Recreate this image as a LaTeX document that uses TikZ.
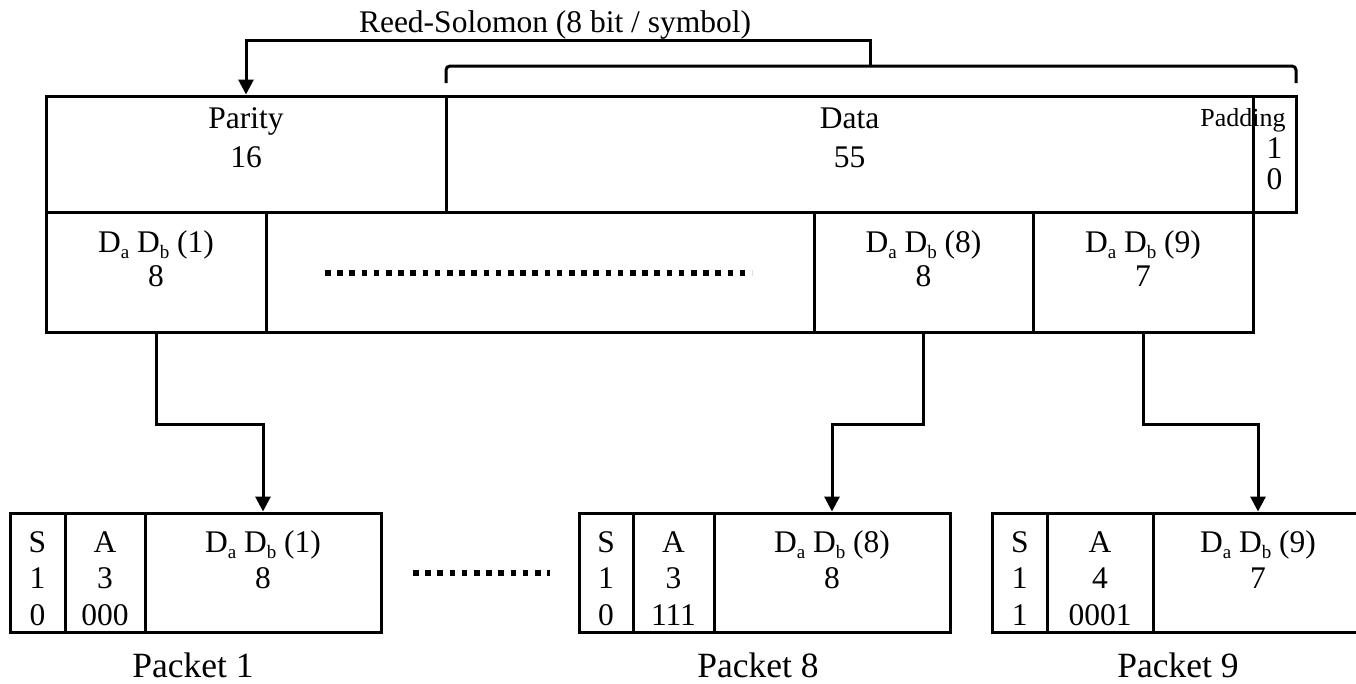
\documentclass[tikz,border=0pt]{standalone}
\usepackage{fontspec}
\setmainfont{Liberation Serif}
\usetikzlibrary{arrows.meta}
\tikzset{
  x=1pt, y=-1pt,
  box/.style={draw, line width=3pt, inner sep=0pt},
  txt/.style={anchor=base, inner sep=0pt, font=\fontsize{31.5}{37}\selectfont},
  bigtxt/.style={anchor=base, inner sep=0pt, font=\fontsize{35.5}{40}\selectfont},
  smalltxt/.style={anchor=base, inner sep=0pt, font=\fontsize{26}{30}\selectfont},
  conn/.style={line width=3pt},
  arr/.style={line width=3pt, -{Triangle[length=15pt,width=15pt]}},
  dotline/.style={line width=5.5pt, dash pattern=on 5.5pt off 6.7pt},
}
\newcommand{\lowsub}[1]{\raisebox{-6pt}{\fontsize{19}{19}\selectfont #1}}
\newcommand{\DaDb}[1]{D\lowsub{a} D\lowsub{b} (#1)}
\begin{document}
\begin{tikzpicture}
\useasboundingbox (0,0) rectangle (1356,683);

% top block
\node[box, minimum width=400pt, minimum height=116pt] (par) at (246,154) {};
\node[box, minimum width=807pt, minimum height=116pt] (dat) at (849.5,154) {};
\node[box, minimum width=43pt, minimum height=116pt] (pad) at (1274.5,154) {};
\node[txt] (parT) at (246,128) {Parity};
\node[txt] (parN) at (246,167) {16};
\node[txt] (datT) at (849.5,128) {Data};
\node[txt] (datN) at (849.5,167) {55};
\node[smalltxt] (padT) at (1243,126) {Padding};
\node[txt] (padN1) at (1274.5,158) {1};
\node[txt] (padN0) at (1274.5,189) {0};

% second row
\node[box, minimum width=220pt, minimum height=120pt] (c1) at (156,272) {};
\node[box, minimum width=548pt, minimum height=120pt] (cd) at (540,272) {};
\node[box, minimum width=219pt, minimum height=120pt] (c8) at (923.5,272) {};
\node[box, minimum width=220pt, minimum height=120pt] (c9) at (1143,272) {};
\node[txt] (c1T) at (156,252) {\DaDb{1}};
\node[txt] (c1N) at (156,286) {8};
\node[txt] (c8T) at (923.5,252) {\DaDb{8}};
\node[txt] (c8N) at (923.5,286) {8};
\node[txt] (c9T) at (1143,252) {\DaDb{9}};
\node[txt] (c9N) at (1143,286) {7};
\coordinate (dA) at (325,273);
\coordinate (dB) at (752,273);
\draw[dotline] (dA) -- (dB);

% Reed-Solomon bracket and arrow
\coordinate (bl) at (446,83);
\coordinate (br) at (1296,83);
\coordinate (bm) at (870,66);
\draw[conn, rounded corners=4pt] (bl) -- (446,66) -- (1296,66) -- (br);
\node[txt] (rs) at (555,32) {Reed-Solomon (8 bit / symbol)};
\draw[arr] (bm) -- ++(0,-26) -| (par.north);

% packets
\node[box, minimum width=55pt, minimum height=119pt] (p1s) at (37.5,572.5) {};
\node[box, minimum width=80pt, minimum height=119pt] (p1a) at (105,572.5) {};
\node[box, minimum width=236pt, minimum height=119pt] (p1d) at (263,572.5) {};
\node[box, minimum width=54pt, minimum height=119pt] (p8s) at (606,572.5) {};
\node[box, minimum width=81pt, minimum height=119pt] (p8a) at (673.5,572.5) {};
\node[box, minimum width=236pt, minimum height=119pt] (p8d) at (832,572.5) {};
\node[box, minimum width=54.5pt, minimum height=119pt] (p9s) at (1019.75,572.5) {};
\node[box, minimum width=106pt, minimum height=119pt] (p9a) at (1100,572.5) {};
\node[box, minimum width=210pt, minimum height=119pt] (p9d) at (1258,572.5) {};

% packet 1 texts
\node[txt] (p1s1) at (37.5,552) {S};
\node[txt] (p1s2) at (37.5,588) {1};
\node[txt] (p1s3) at (37.5,625) {0};
\node[txt] (p1a1) at (105,552) {A};
\node[txt] (p1a2) at (105,588) {3};
\node[txt] (p1a3) at (105,625) {000};
\node[txt] (p1d1) at (263,552) {\DaDb{1}};
\node[txt] (p1d2) at (263,588) {8};
% packet 8 texts
\node[txt] (p8s1) at (606,552) {S};
\node[txt] (p8s2) at (606,588) {1};
\node[txt] (p8s3) at (606,625) {0};
\node[txt] (p8a1) at (673.5,552) {A};
\node[txt] (p8a2) at (673.5,588) {3};
\node[txt] (p8a3) at (673.5,625) {111};
\node[txt] (p8d1) at (832,552) {\DaDb{8}};
\node[txt] (p8d2) at (832,588) {8};
% packet 9 texts
\node[txt] (p9s1) at (1019.75,552) {S};
\node[txt] (p9s2) at (1019.75,588) {1};
\node[txt] (p9s3) at (1019.75,625) {1};
\node[txt] (p9a1) at (1100,552) {A};
\node[txt] (p9a2) at (1100,588) {4};
\node[txt] (p9a3) at (1100,625) {0001};
\node[txt] (p9d1) at (1258,552) {\DaDb{9}};
\node[txt] (p9d2) at (1258,588) {7};

\coordinate (eA) at (413,573);
\coordinate (eB) at (550,573);
\draw[dotline] (eA) -- (eB);

% labels
\node[bigtxt] (L1) at (193,677) {Packet 1};
\node[bigtxt] (L8) at (758,677) {Packet 8};
\node[bigtxt] (L9) at (1178,677) {Packet 9};

% connectors
\draw[arr] (c1.south) -- ++(0,91) -| (p1d.north);
\draw[arr] (c8.south) -- ++(0,91) -| (p8d.north);
\draw[arr] (c9.south) -- ++(0,91) -| (p9d.north);
\end{tikzpicture}
\end{document}
